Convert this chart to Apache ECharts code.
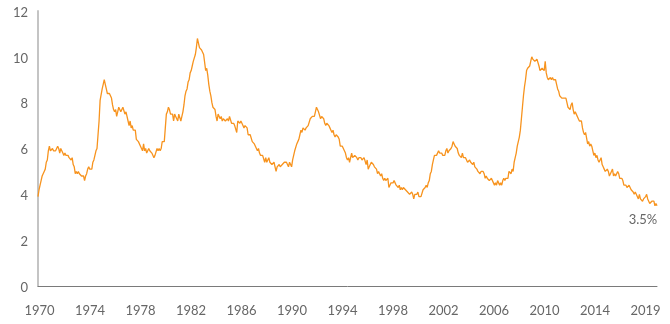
<!DOCTYPE html>
<html>
<head>
<meta charset="utf-8">
<script src="https://cdn.jsdelivr.net/npm/echarts@6/dist/echarts.min.js"></script>
<style>
  html, body { margin: 0; padding: 0; background: #fff; }
  #chart { width: 670px; height: 324px; }
</style>
</head>
<body>
<div id="chart"></div>
<script>
// monthly unemployment rate, Jan 1970 - Nov 2019
var startYear = 1970
var rates = [
  3.9, 4.2, 4.4, 4.6, 4.8, 4.9, 5.0, 5.1, 5.4, 5.5, 5.9, 6.1,
  5.9, 5.9, 6.0, 5.9, 5.9, 5.9, 6.0, 6.1, 6.0, 5.8, 6.0, 6.0,
  5.8, 5.7, 5.8, 5.7, 5.7, 5.7, 5.6, 5.6, 5.5, 5.6, 5.3, 5.2,
  4.9, 5.0, 4.9, 5.0, 4.9, 4.9, 4.8, 4.8, 4.8, 4.6, 4.8, 4.9,
  5.1, 5.2, 5.1, 5.1, 5.1, 5.4, 5.5, 5.5, 5.9, 6.0, 6.6, 7.2,
  8.1, 8.1, 8.6, 8.8, 9.0, 8.8, 8.6, 8.4, 8.4, 8.4, 8.3, 8.2,
  7.9, 7.7, 7.6, 7.7, 7.4, 7.6, 7.8, 7.8, 7.6, 7.7, 7.8, 7.8,
  7.5, 7.6, 7.4, 7.2, 7.0, 7.2, 6.9, 7.0, 6.8, 6.8, 6.8, 6.4,
  6.4, 6.3, 6.3, 6.1, 6.0, 5.9, 6.2, 5.9, 6.0, 5.8, 5.9, 6.0,
  5.9, 5.9, 5.8, 5.8, 5.6, 5.7, 5.7, 6.0, 5.9, 6.0, 5.9, 6.0,
  6.3, 6.3, 6.3, 6.9, 7.5, 7.6, 7.8, 7.7, 7.5, 7.5, 7.5, 7.2,
  7.5, 7.4, 7.4, 7.2, 7.5, 7.5, 7.2, 7.4, 7.6, 7.9, 8.3, 8.5,
  8.6, 8.9, 9.0, 9.3, 9.4, 9.6, 9.8, 9.8, 10.1, 10.4, 10.8, 10.8,
  10.4, 10.4, 10.3, 10.2, 10.1, 10.1, 9.4, 9.5, 9.2, 8.8, 8.5, 8.3,
  8.0, 7.8, 7.8, 7.7, 7.4, 7.2, 7.5, 7.5, 7.3, 7.4, 7.2, 7.3,
  7.3, 7.2, 7.2, 7.3, 7.2, 7.4, 7.4, 7.1, 7.1, 7.1, 7.0, 7.0,
  6.7, 7.2, 7.2, 7.1, 7.2, 7.2, 7.0, 6.9, 7.0, 7.0, 6.9, 6.6,
  6.6, 6.6, 6.6, 6.3, 6.3, 6.2, 6.1, 6.0, 5.9, 6.0, 5.8, 5.7,
  5.7, 5.7, 5.7, 5.4, 5.6, 5.4, 5.4, 5.6, 5.4, 5.4, 5.3, 5.3,
  5.4, 5.2, 5.0, 5.2, 5.2, 5.3, 5.2, 5.2, 5.3, 5.3, 5.4, 5.4,
  5.4, 5.3, 5.2, 5.4, 5.4, 5.2, 5.5, 5.7, 5.9, 5.9, 6.2, 6.3,
  6.4, 6.6, 6.8, 6.7, 6.9, 6.9, 6.8, 6.9, 6.9, 7.0, 7.0, 7.3,
  7.3, 7.4, 7.4, 7.4, 7.6, 7.8, 7.7, 7.6, 7.6, 7.3, 7.4, 7.4,
  7.3, 7.1, 7.0, 7.1, 7.1, 7.0, 6.9, 6.8, 6.7, 6.8, 6.6, 6.5,
  6.6, 6.6, 6.5, 6.4, 6.1, 6.1, 6.1, 6.0, 5.9, 5.8, 5.6, 5.5,
  5.6, 5.4, 5.4, 5.8, 5.6, 5.6, 5.7, 5.7, 5.6, 5.5, 5.6, 5.6,
  5.6, 5.5, 5.5, 5.6, 5.6, 5.3, 5.5, 5.1, 5.2, 5.2, 5.4, 5.4,
  5.3, 5.2, 5.2, 5.1, 4.9, 5.0, 4.9, 4.8, 4.9, 4.7, 4.6, 4.7,
  4.6, 4.6, 4.7, 4.3, 4.4, 4.5, 4.5, 4.5, 4.6, 4.5, 4.4, 4.4,
  4.3, 4.4, 4.2, 4.3, 4.2, 4.3, 4.3, 4.2, 4.2, 4.1, 4.1, 4.0,
  4.0, 4.1, 4.0, 3.8, 4.0, 4.0, 4.0, 4.1, 3.9, 3.9, 3.9, 3.9,
  4.2, 4.2, 4.3, 4.4, 4.3, 4.5, 4.6, 4.9, 5.0, 5.3, 5.5, 5.7,
  5.7, 5.7, 5.7, 5.9, 5.8, 5.8, 5.8, 5.7, 5.7, 5.7, 5.9, 6.0,
  5.8, 5.9, 5.9, 6.0, 6.1, 6.3, 6.2, 6.1, 6.1, 6.0, 5.8, 5.7,
  5.7, 5.6, 5.8, 5.6, 5.6, 5.6, 5.5, 5.4, 5.4, 5.5, 5.4, 5.4,
  5.3, 5.4, 5.2, 5.2, 5.1, 5.0, 5.0, 4.9, 5.0, 5.0, 5.0, 4.9,
  4.7, 4.8, 4.7, 4.7, 4.6, 4.6, 4.7, 4.7, 4.5, 4.4, 4.5, 4.4,
  4.6, 4.5, 4.4, 4.5, 4.4, 4.6, 4.7, 4.6, 4.7, 4.7, 4.7, 5.0,
  5.0, 4.9, 5.1, 5.0, 5.4, 5.6, 5.8, 6.1, 6.1, 6.5, 6.8, 7.3,
  7.8, 8.3, 8.7, 9.0, 9.4, 9.5, 9.5, 9.6, 9.8, 10.0, 9.9, 9.9,
  9.8, 9.8, 9.9, 9.9, 9.6, 9.4, 9.4, 9.5, 9.5, 9.4, 9.8, 9.3,
  9.1, 9.0, 9.0, 9.1, 9.0, 9.1, 9.0, 9.0, 9.0, 8.8, 8.6, 8.5,
  8.3, 8.3, 8.2, 8.2, 8.2, 8.2, 8.2, 8.0, 7.8, 7.8, 7.7, 7.9,
  8.0, 7.7, 7.5, 7.6, 7.5, 7.5, 7.3, 7.2, 7.2, 7.2, 6.9, 6.7,
  6.6, 6.7, 6.7, 6.2, 6.3, 6.1, 6.2, 6.1, 5.9, 5.7, 5.8, 5.6,
  5.7, 5.5, 5.4, 5.4, 5.6, 5.3, 5.2, 5.1, 5.0, 5.0, 5.1, 5.0,
  4.8, 4.9, 5.0, 5.1, 4.8, 4.9, 4.8, 4.9, 5.0, 4.9, 4.7, 4.7,
  4.7, 4.6, 4.4, 4.4, 4.4, 4.3, 4.3, 4.4, 4.3, 4.2, 4.2, 4.1,
  4.0, 4.1, 4.0, 4.0, 3.8, 4.0, 3.8, 3.8, 3.7, 3.8, 3.8, 3.9,
  4.0, 3.8, 3.8, 3.6, 3.6, 3.7, 3.7, 3.7, 3.5, 3.6, 3.5
]
// year labels, evenly spaced under the axis
var labelYears = ['1970', '1974', '1978', '1982', '1986', '1990', '1994', '1998', '2002', '2006', '2010', '2014', '2019']
var yTicks = [0, 2, 4, 6, 8, 10, 12]
var lastLabel = '3.5%'

var months = []
for (var i = 0; i < rates.length; i++) {
  var y = startYear + Math.floor(i / 12)
  var m = (i % 12) + 1
  months.push(y + '-' + (m < 10 ? '0' + m : m))
}

var chart = echarts.init(document.getElementById('chart'), null, { renderer: 'canvas' })

var labelStyle = { color: '#666', fontSize: 13, fontFamily: 'Lato' }

var option = {
  backgroundColor: '#fff',
  animation: false,
  grid: [
    { left: 38, right: 13, top: 11, bottom: 38 },
    // grid only for the year labels
    { left: 39.5, right: 24.5, top: 11, bottom: 38 }
  ],
  xAxis: [{
    type: 'category',
    data: months,
    boundaryGap: false,
    axisLine: { show: true, lineStyle: { color: '#7a7a7a', width: 1 } },
    axisTick: { show: false },
    splitLine: { show: false },
    axisLabel: { show: false }
  }, {
    type: 'category',
    gridIndex: 1,
    data: labelYears,
    boundaryGap: false,
    axisLine: { show: false },
    axisTick: { show: false },
    splitLine: { show: false },
    axisLabel: Object.assign({ margin: 18, interval: 0, hideOverlap: false }, labelStyle)
  }],
  yAxis: [{
    type: 'value',
    min: yTicks[0],
    max: yTicks[yTicks.length - 1],
    interval: 2,
    axisLine: { show: true, lineStyle: { color: '#c4c4c4', width: 2 } },
    axisTick: { show: false },
    splitLine: { show: false },
    axisLabel: Object.assign({ margin: 10, verticalAlign: 'top', padding: [-5, 0, 0, 0] }, labelStyle)
  }, {
    type: 'value',
    gridIndex: 1,
    show: false,
    min: 0,
    max: 1
  }],
  series: [{
    type: 'line',
    data: rates,
    showSymbol: false,
    symbol: 'none',
    lineStyle: { color: '#f7931e', width: 1.3 },
    markPoint: {
      symbol: 'circle',
      symbolSize: 0,
      data: [{ coord: [months[months.length - 1], rates[rates.length - 1]] }],
      label: Object.assign({
        show: true,
        position: 'bottom',
        formatter: lastLabel,
        offset: [-14, 3]
      }, labelStyle)
    }
  }]
}

chart.setOption(option)
</script>
</body>
</html>
